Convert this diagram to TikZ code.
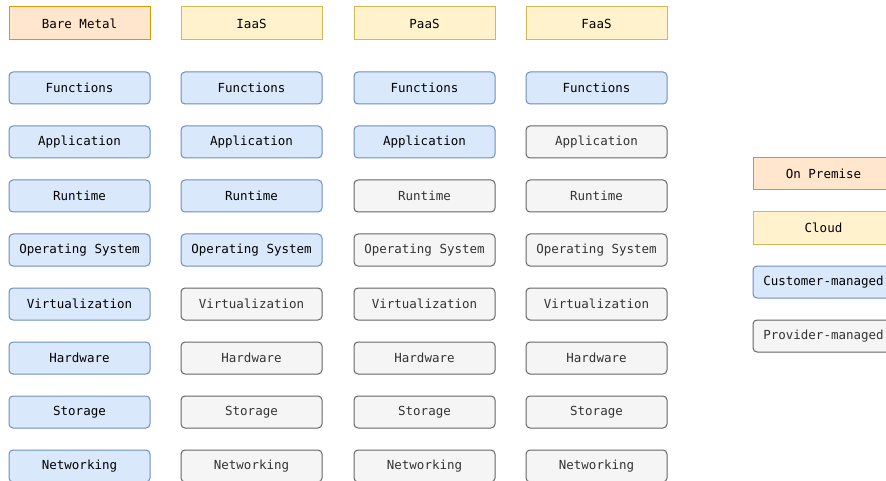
\documentclass[tikz,border=0pt]{standalone}
\usepackage{fontspec}
\usepackage{tikz}
\newfontfamily\boxfont{DejaVu Sans Mono}
\definecolor{premfill}{HTML}{FFE6CC}
\definecolor{premline}{HTML}{D79B00}
\definecolor{cloudfill}{HTML}{FFF2CC}
\definecolor{cloudline}{HTML}{D6B656}
\definecolor{custfill}{HTML}{DAE8FC}
\definecolor{custline}{HTML}{6C8EBF}
\definecolor{provfill}{HTML}{F5F5F5}
\definecolor{provline}{HTML}{666666}
\definecolor{provtext}{HTML}{333333}

\tikzset{
  layer/.style={minimum width=141pt, minimum height=32pt, inner sep=0pt, line width=1pt,
    font=\boxfont\fontsize{12.5}{14}\selectfont},
  prembox/.style={layer, draw=premline, fill=premfill, minimum height=33pt},
  cloudbox/.style={layer, draw=cloudline, fill=cloudfill, minimum height=33pt},
  custbox/.style={layer, rounded corners=4pt, draw=custline, fill=custfill},
  provbox/.style={layer, rounded corners=4pt, draw=provline, fill=provfill, text=provtext}
}

\begin{document}
\begin{tikzpicture}[x=1pt, y=-1pt]
  \useasboundingbox (0,0) rectangle (886,481);

  % Bare Metal column
  \node[prembox] (bm) at (79.5,23.5) {Bare Metal};
  \node[custbox] (bmfun) at (79.5,88) {Functions};
  \node[custbox] (bmapp) at (79.5,142) {Application};
  \node[custbox] (bmrun) at (79.5,196) {Runtime};
  \node[custbox] (bmos) at (79.5,250) {Operating System};
  \node[custbox] (bmvirt) at (79.5,304) {Virtualization};
  \node[custbox] (bmhw) at (79.5,358) {Hardware};
  \node[custbox] (bmsto) at (79.5,412) {Storage};
  \node[custbox] (bmnet) at (79.5,466) {Networking};

  % IaaS column
  \node[cloudbox] (iaas) at (251.5,23.5) {IaaS};
  \node[custbox] (iaasfun) at (251.5,88) {Functions};
  \node[custbox] (iaasapp) at (251.5,142) {Application};
  \node[custbox] (iaasrun) at (251.5,196) {Runtime};
  \node[custbox] (iaasos) at (251.5,250) {Operating System};
  \node[provbox] (iaasvirt) at (251.5,304) {Virtualization};
  \node[provbox] (iaashw) at (251.5,358) {Hardware};
  \node[provbox] (iaassto) at (251.5,412) {Storage};
  \node[provbox] (iaasnet) at (251.5,466) {Networking};

  % PaaS column
  \node[cloudbox] (paas) at (424.5,23.5) {PaaS};
  \node[custbox] (paasfun) at (424.5,88) {Functions};
  \node[custbox] (paasapp) at (424.5,142) {Application};
  \node[provbox] (paasrun) at (424.5,196) {Runtime};
  \node[provbox] (paasos) at (424.5,250) {Operating System};
  \node[provbox] (paasvirt) at (424.5,304) {Virtualization};
  \node[provbox] (paashw) at (424.5,358) {Hardware};
  \node[provbox] (paassto) at (424.5,412) {Storage};
  \node[provbox] (paasnet) at (424.5,466) {Networking};

  % FaaS column
  \node[cloudbox] (faas) at (596.5,23.5) {FaaS};
  \node[custbox] (faasfun) at (596.5,88) {Functions};
  \node[provbox] (faasapp) at (596.5,142) {Application};
  \node[provbox] (faasrun) at (596.5,196) {Runtime};
  \node[provbox] (faasos) at (596.5,250) {Operating System};
  \node[provbox] (faasvirt) at (596.5,304) {Virtualization};
  \node[provbox] (faashw) at (596.5,358) {Hardware};
  \node[provbox] (faassto) at (596.5,412) {Storage};
  \node[provbox] (faasnet) at (596.5,466) {Networking};

  % Legend
  \node[prembox, minimum height=32pt] (legprem) at (823.5,174) {On Premise};
  \node[cloudbox, minimum height=32pt] (legcloud) at (823.5,228) {Cloud};
  \node[custbox] (legcust) at (823.5,282) {Customer-managed};
  \node[provbox] (legprov) at (823.5,336) {Provider-managed};
\end{tikzpicture}
\end{document}
